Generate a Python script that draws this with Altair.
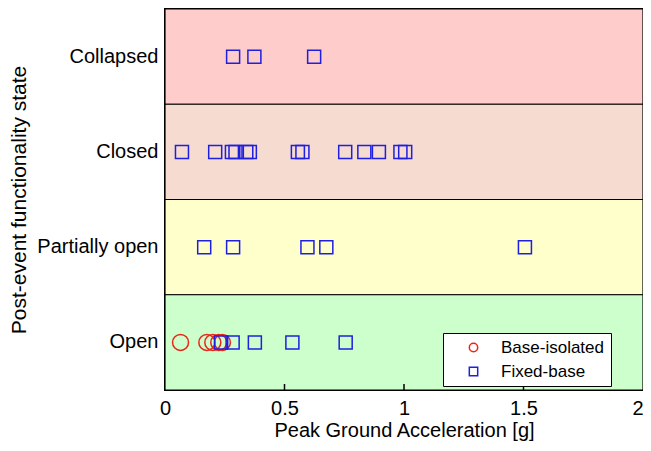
import altair as alt
import pandas as pd

states = ["Collapsed", "Closed", "Partially open", "Open"]
band_colors = ["#ffcccc", "#f6dbd0", "#ffffcc", "#ccffcc"]

groups = ["Base-isolated", "Fixed-base"]
marker_area = {"Base-isolated": 256, "Fixed-base": 169}

iso_open = [0.065, 0.175, 0.2, 0.225, 0.24]
fix_open = [0.235, 0.283, 0.376, 0.533, 0.756]
fix_partial = [0.164, 0.285, 0.596, 0.675, 1.506]
fix_closed = [0.071, 0.21, 0.28, 0.295, 0.34, 0.355, 0.556, 0.575, 0.754, 0.834, 0.895, 0.985, 1.005]
fix_collapsed = [0.285, 0.374, 0.624]

rows = []
for v in iso_open:
    rows.append({"pga": v, "state": "Open", "type": "Base-isolated"})
for st, vals in [("Open", fix_open), ("Partially open", fix_partial),
                 ("Closed", fix_closed), ("Collapsed", fix_collapsed)]:
    for v in vals:
        rows.append({"pga": v, "state": st, "type": "Fixed-base"})
pts = pd.DataFrame(rows)
pts["sz"] = pts["type"].map(marker_area)
bands = pd.DataFrame({"state": states, "color": band_colors})
ticks = pd.DataFrame({"t": [0.5, 1.0, 1.5]})

W, H = 478, 381
FONT = "Liberation Sans"

yscale = alt.Scale(domain=states, paddingInner=0, paddingOuter=0)
xscale = alt.Scale(domain=[0, 2], nice=False, zero=False)

band_layer = alt.Chart(bands).mark_rect(stroke="black", strokeWidth=1.2).encode(
    y=alt.Y("state:N", scale=yscale, sort=states,
            axis=alt.Axis(title="Post-event functionality state", domain=False, ticks=False,
                          labelFontSize=20, labelPadding=7, titleFontSize=21,
                          titlePadding=7, labelColor="black", titleColor="black",
                          labelFont=FONT, titleFont=FONT, titleFontWeight="normal")),
    x=alt.value(0), x2=alt.value(W),
    fill=alt.Fill("color:N", scale=None),
)

point_layer = alt.Chart(pts).mark_point(filled=False, strokeWidth=1.5, opacity=1).encode(
    x=alt.X("pga:Q", scale=xscale,
            axis=alt.Axis(title="Peak Ground Acceleration [g]", values=[0, 0.5, 1, 1.5, 2],
                          format="~g", ticks=False, domain=False, grid=False,
                          labelFontSize=20, labelPadding=8, titleFontSize=20, titlePadding=2,
                          labelColor="black", titleColor="black",
                          labelFont=FONT, titleFont=FONT, titleFontWeight="normal",
                          labelFlush=False,
                          labelAlign=alt.expr("datum.value == 2 ? 'right' : 'center'"))),
    y=alt.Y("state:N", scale=yscale, sort=states),
    shape=alt.Shape("type:N", scale=alt.Scale(domain=groups, range=["circle", "square"]),
                    legend=alt.Legend(title=None, orient="none", legendX=278, legendY=324,
                                      fillColor="white", strokeColor="black", padding=6,
                                      labelFontSize=17, labelFont=FONT, labelColor="black",
                                      symbolSize=70, symbolStrokeWidth=1.5, rowPadding=6,
                                      labelOffset=19, offset=0, symbolOffset=16)),
    color=alt.Color("type:N", scale=alt.Scale(domain=groups, range=["#e8261a", "#1f1fe0"]),
                    legend=alt.Legend(title=None, orient="none", legendX=278, legendY=324)),
    size=alt.Size("sz:Q", scale=None, legend=None),
)

tick_layer = alt.Chart(ticks).mark_rule(color="black", strokeWidth=1.5).encode(
    x=alt.X("t:Q", scale=xscale),
    y=alt.value(H), y2=alt.value(H - 6),
)

chart = alt.layer(band_layer, point_layer, tick_layer).resolve_scale(
    fill="independent"
).properties(
    width=W, height=H,
    autosize=alt.AutoSizeParams(type="none"),
    padding={"left": 157, "top": 1, "right": 0, "bottom": 53},
).configure_view(stroke="black", strokeWidth=2)

chart.save("out.html", embed_options={"renderer": "svg", "actions": False})
